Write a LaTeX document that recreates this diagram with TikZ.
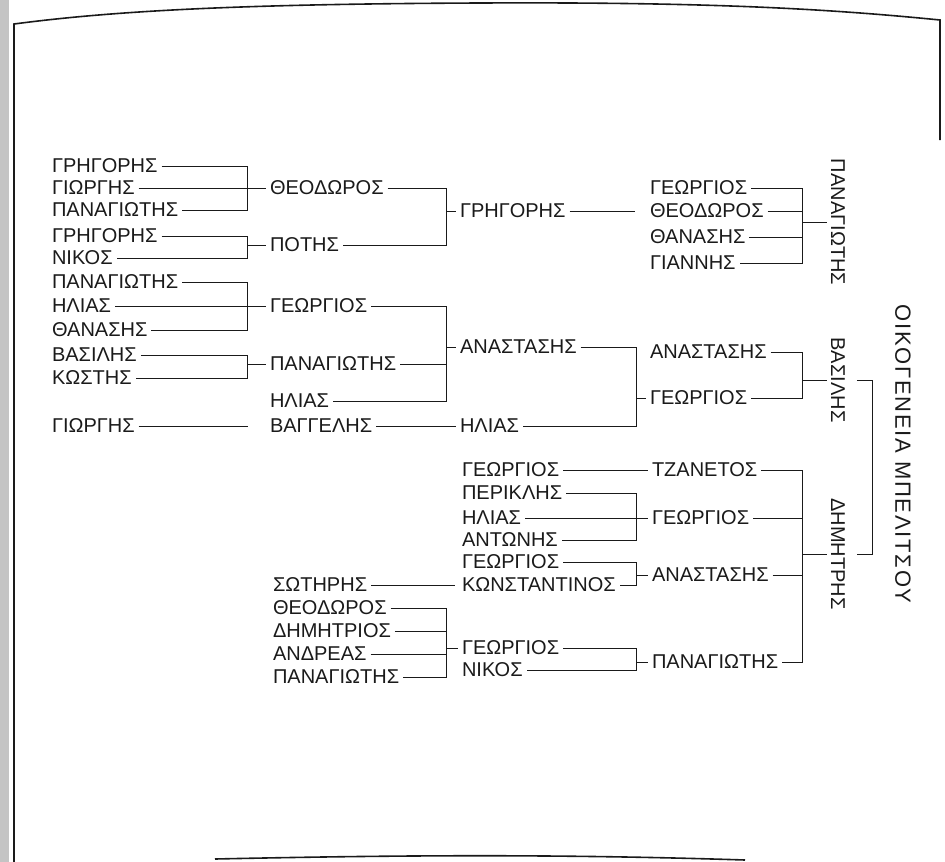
\documentclass[tikz,border=0pt]{standalone}
\usepackage{fontspec}
\setmainfont{Liberation Sans}
\newfontfamily\titlefont[LetterSpace=8]{Liberation Sans}
\usepackage{xcolor}
\definecolor{scanink}{HTML}{1A1A1A}
\definecolor{scanedge}{HTML}{C4C4C4}

\begin{document}
\begin{tikzpicture}[
  x=1pt,
  y=-1pt,
  every node/.style={font=\fontsize{20}{22}\selectfont, text=scanink},
  person/.style={anchor=west, inner sep=2pt, outer sep=2pt},
  sideline/.style={rotate=-90, inner sep=2pt, outer sep=2pt},
  family/.style={rotate=-90, inner sep=0pt,
                 font=\titlefont\fontsize{22}{24}\selectfont},
  link/.style={scanink, line width=0.8pt},
  pageedge/.style={scanink, line width=1.6pt}
]
  \useasboundingbox (0,0) rectangle (945,862);

  % ---- page edges of the scan ----
  \fill[scanedge] (0,0) rectangle (9,862);
  \draw[pageedge] (14,862) -- (14,24)
    .. controls (120,10) and (250,4) .. (480,3)
    .. controls (700,2) and (820,8) .. (940,20) -- (940,140);
  \draw[pageedge] (215,859) .. controls (400,855) and (560,854) .. (745,860);

  % ---- bracket columns ----
  \coordinate (kA) at (247,0);
  \coordinate (kB) at (446,0);
  \coordinate (kC) at (636,0);
  \coordinate (kD) at (802,0);
  \coordinate (kE) at (872,0);

  % ---- first column ----
  \foreach \i/\y/\name in {1/166/ΓΡΗΓΟΡΗΣ, 2/188/ΓΙΩΡΓΗΣ, 3/210/ΠΑΝΑΓΙΩΤΗΣ,
      4/236/ΓΡΗΓΟΡΗΣ, 5/258/ΝΙΚΟΣ, 6/282/ΠΑΝΑΓΙΩΤΗΣ, 7/306/ΗΛΙΑΣ,
      8/330/ΘΑΝΑΣΗΣ, 9/355/ΒΑΣΙΛΗΣ, 10/378/ΚΩΣΤΗΣ, 11/426/ΓΙΩΡΓΗΣ}
    \node[person] (p\i) at (48,\y) {\name};

  % ---- second column ----
  \node[person] (q1) at (266,188) {ΘΕΟΔΩΡΟΣ};
  \node[person] (q2) at (266,245) {ΠΟΤΗΣ};
  \node[person] (q3) at (266,306) {ΓΕΩΡΓΙΟΣ};
  \node[person] (q4) at (266,364) {ΠΑΝΑΓΙΩΤΗΣ};
  \node[person] (q5) at (266,401) {ΗΛΙΑΣ};
  \node[person] (q6) at (266,426) {ΒΑΓΓΕΛΗΣ};

  % ---- third column ----
  \node[person] (r1) at (456,211) {ΓΡΗΓΟΡΗΣ};
  \node[person] (r2) at (456,347) {ΑΝΑΣΤΑΣΗΣ};
  \node[person] (r3) at (456,426) {ΗΛΙΑΣ};

  % ---- fourth column ----
  \node[person] (s1) at (646,188) {ΓΕΩΡΓΙΟΣ};
  \node[person] (s2) at (646,211) {ΘΕΟΔΩΡΟΣ};
  \node[person] (s3) at (646,237) {ΘΑΝΑΣΗΣ};
  \node[person] (s4) at (646,263) {ΓΙΑΝΝΗΣ};
  \node[person] (s5) at (646,352) {ΑΝΑΣΤΑΣΗΣ};
  \node[person] (s6) at (646,398) {ΓΕΩΡΓΙΟΣ};

  % ---- lower branch ----
  \node[person] (t1) at (458,470) {ΓΕΩΡΓΙΟΣ};
  \node[person] (t2) at (458,493) {ΠΕΡΙΚΛΗΣ};
  \node[person] (t3) at (458,518) {ΗΛΙΑΣ};
  \node[person] (t4) at (458,540) {ΑΝΤΩΝΗΣ};
  \node[person] (t5) at (458,562) {ΓΕΩΡΓΙΟΣ};
  \node[person] (t6) at (458,585) {ΚΩΝΣΤΑΝΤΙΝΟΣ};
  \node[person] (h1) at (269,585) {ΣΩΤΗΡΗΣ};
  \foreach \i/\y/\name in {1/608/ΘΕΟΔΩΡΟΣ, 2/631/ΔΗΜΗΤΡΙΟΣ,
      3/654/ΑΝΔΡΕΑΣ, 4/677/ΠΑΝΑΓΙΩΤΗΣ}
    \node[person] (u\i) at (269,\y) {\name};
  \node[person] (v1) at (458,648) {ΓΕΩΡΓΙΟΣ};
  \node[person] (v2) at (458,670) {ΝΙΚΟΣ};
  \node[person] (f1) at (648,470) {ΤΖΑΝΕΤΟΣ};
  \node[person] (f2) at (648,518) {ΓΕΩΡΓΙΟΣ};
  \node[person] (f3) at (648,575) {ΑΝΑΣΤΑΣΗΣ};
  \node[person] (f4) at (648,662) {ΠΑΝΑΓΙΩΤΗΣ};

  % ---- brothers and family name, set upright ----
  \node[sideline] (vP) at (838,222) {ΠΑΝΑΓΙΩΤΗΣ};
  \node[sideline] (vB) at (838,380) {ΒΑΣΙΛΗΣ};
  \node[sideline] (vD) at (838,554) {ΔΗΜΗΤΡΗΣ};
  \node[family] (fam) at (903,454) {ΟΙΚΟΓΕΝΕΙΑ ΜΠΕΛΙΤΣΟΥ};

  % ---- first column to second ----
  \draw[link] (p1) -- (p1 -| kA) |- (p3);
  \draw[link] (p2) -- (q1);
  \draw[link] (p4) -- (p4 -| kA) |- (p5);
  \draw[link] (q2 -| kA) -- (q2);
  \draw[link] (p6) -- (p6 -| kA) |- (p8);
  \draw[link] (p7) -- (q3);
  \draw[link] (p9) -- (p9 -| kA) |- (p10);
  \draw[link] (q4 -| kA) -- (q4);
  \coordinate (p11end) at (248,426);
  \draw[link] (p11) -- (p11end);

  % ---- second column to third ----
  \draw[link] (q1) -- (q1 -| kB) |- (q2);
  \draw[link] (r1 -| kB) -- (r1);
  \draw[link] (q3) -- (q3 -| kB) |- (q5);
  \draw[link] (q4) -- (q4 -| kB);
  \draw[link] (r2 -| kB) -- (r2);
  \draw[link] (q6) -- (r3);

  % ---- third column to fourth ----
  \draw[link, shorten >=11pt] (r1) -- (s2);
  \draw[link] (r2) -- (r2 -| kC) |- (r3);
  \draw[link] (s6 -| kC) -- (s6);

  % ---- fourth column to the brothers ----
  \draw[link] (s1) -- (s1 -| kD) |- (s4);
  \draw[link] (s2) -- (s2 -| kD);
  \draw[link] (s3) -- (s3 -| kD);
  \draw[link] (vP -| kD) -- (vP);
  \draw[link] (s5) -- (s5 -| kD) |- (s6);
  \draw[link] (vB -| kD) -- (vB);

  % ---- lower branch ----
  \draw[link] (t1) -- (f1);
  \draw[link] (t2) -- (t2 -| kC) |- (t4);
  \draw[link] (t3) -- (f2);
  \draw[link] (t5) -- (t5 -| kC) |- (t6);
  \draw[link] (f3 -| kC) -- (f3);
  \draw[link, shorten >=3pt] (h1) -- (t6);
  \draw[link] (u1) -- (u1 -| kB) |- (u4);
  \draw[link] (u2) -- (u2 -| kB);
  \draw[link] (u3) -- (u3 -| kB);
  \draw[link] (v1 -| kB) -- (v1);
  \draw[link] (v1) -- (v1 -| kC) |- (v2);
  \draw[link] (f4 -| kC) -- (f4);
  \draw[link] (f1) -- (f1 -| kD) |- (f4);
  \draw[link] (f2) -- (f2 -| kD);
  \draw[link] (f3) -- (f3 -| kD);
  \draw[link] (vD -| kD) -- (vD);

  % ---- the two brothers joined ----
  \draw[link] ([xshift=8pt]vB.north) -- (vB -| kE) |- ([xshift=8pt]vD.north);
\end{tikzpicture}
\end{document}
